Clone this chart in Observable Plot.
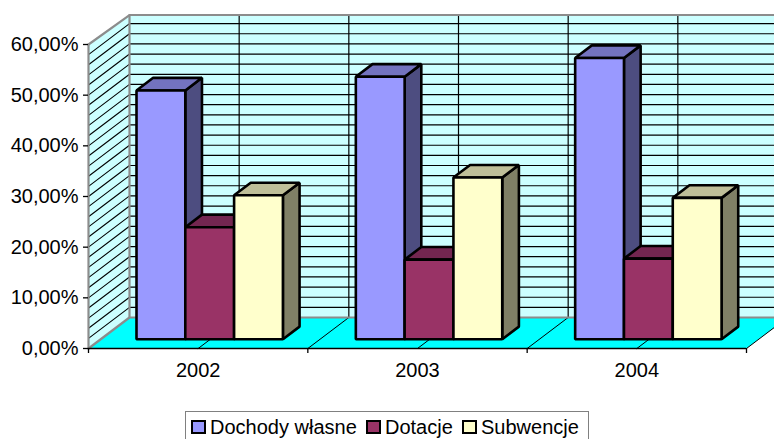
<!DOCTYPE html>
<html><head><meta charset="utf-8">
<script src="https://cdn.jsdelivr.net/npm/d3@7"></script>
<script src="https://cdn.jsdelivr.net/npm/@observablehq/plot@0.6"></script>
<style>
html,body{margin:0;padding:0;background:#fff;overflow:hidden;height:439px}
#legend{position:absolute;left:185px;top:411px;width:402px;height:40px;border:1px solid #808080;font:20px "Liberation Sans",Arial,sans-serif;color:#000;white-space:nowrap}
#legend span{position:absolute;top:4px;line-height:22px}
#legend i{position:absolute;top:8px;width:11px;height:10px;border:2px solid #000;display:block}
</style></head><body>
<div id="chart"></div><div id="legend"></div>
<script>
const categories = ["2002","2003","2004"];
const seriesNames = ["Dochody własne","Dotacje","Subwencje"];
const dochody = [49.1,51.8,55.5];
const dotacje = [22.1,15.7,15.9];
const subwencje = [28.4,31.9,27.9];
const axisTicks = [0,10,20,30,40,50,60];
const seriesValues = [dochody,dotacje,subwencje];
const frontColors = ["#9999ff","#993366","#ffffcc"];
const sideColors = ["#4d4d80","#4d1a33","#808066"];
const topColors = ["#7373bf","#732650","#bfbf99"];

// oblique projection: depth z (0 front, 1 back wall) shifts x and y in data units
const catPx = 219.33, pctPx = 5.067, depthPx = 31;
const depthX = 41/catPx, depthY = depthPx/pctPx;
const P = (x,y,z=0)=>({x:x+z*depthX,y:y+z*depthY});
const barW = 48.8/catPx, barOffset = 35.7/catPx;
const z0 = 9.3/depthPx, z1 = z0 + 12.6/depthPx;
const faces=[];
const addFace=(id,fill,pts)=>pts.forEach(p=>faces.push({id,fill,...p}));
categories.forEach((c,ci)=>seriesValues.forEach((vals,si)=>{
  const x0 = ci + barOffset + si*barW - 0.4*(z0-0.3)*0, x1 = x0+barW, v = vals[ci];
  addFace(`${c}-${si}-side`,sideColors[si],[P(x1,0,z0),P(x1,0,z1),P(x1,v,z1),P(x1,v,z0)]);
  addFace(`${c}-${si}-top`,topColors[si],[P(x0,v,z0),P(x1,v,z0),P(x1,v,z1),P(x0,v,z1)]);
  addFace(`${c}-${si}-front`,frontColors[si],[P(x0,0,z0),P(x1,0,z0),P(x1,v,z0),P(x0,v,z0)]);
}));

const wallTop=59.7, nCat=categories.length;
const poly=(id,pts)=>pts.map(p=>({id,...p}));
const backWall=poly("b",[P(0,0,1),P(nCat,0,1),P(nCat,wallTop,1),P(0,wallTop,1)]);
const leftWall=poly("l",[P(0,0,0),P(0,0,1),P(0,wallTop,1),P(0,60,0)]);
const floor=poly("f",[P(0,0,0),P(nCat,0,0),P(nCat,0,1),P(0,0,1)]);
const minor=d3.range(2,60,2);
const hGrid=minor.flatMap(v=>[{id:v,...P(0,v,1)},{id:v,...P(nCat,v,1)}]);
const dGrid=minor.flatMap(v=>[{id:v,...P(0,v,0)},{id:v,...P(0,v,1)}]);
const halves=d3.range(.5,nCat+.01,.5);
const vGrid=halves.flatMap(h=>[{id:h,...P(h,0,1)},{id:h,...P(h,wallTop,1)}]);
const fGrid=halves.flatMap(h=>[{id:h,...P(h,0,0)},{id:h,...P(h,0,1)}]);
const frame=[
  ...poly("e1",[P(0,0,0),P(0,0,1),P(nCat,0,1)]),
  ...poly("e2",[P(0,60,0),P(0,wallTop,1),P(nCat,wallTop,1)]),
  ...poly("e3",[P(0,0,1),P(0,wallTop,1)]),
  ...poly("e4",[P(0,0,0),P(0,60,0)])
];
const font='"Liberation Sans",Arial,sans-serif';
const lineOpts={x:"x",y:"y",z:"id"};
const plot=Plot.plot({
  width:774,height:411,marginLeft:88,marginRight:28,marginTop:44,marginBottom:63,
  style:{background:"transparent",fontFamily:font,fontSize:"20px",color:"#000",overflow:"hidden"},
  x:{domain:[0,3],axis:null},
  y:{domain:[0,60],axis:null},
  marks:[
    Plot.line(backWall,{...lineOpts,fill:"#ccffff",stroke:"none",curve:"linear-closed"}),
    Plot.line(leftWall,{...lineOpts,fill:"#ccffff",stroke:"none",curve:"linear-closed"}),
    Plot.line(floor,{...lineOpts,fill:"#00ffff",stroke:"none",curve:"linear-closed"}),
    Plot.line(hGrid,{...lineOpts,stroke:"#000",strokeWidth:1.2}),
    Plot.line(dGrid,{...lineOpts,stroke:"#000",strokeWidth:1.1}),
    Plot.line(vGrid,{...lineOpts,stroke:"#000",strokeWidth:1.2}),
    Plot.line(fGrid,{...lineOpts,stroke:"#000",strokeWidth:1}),
    Plot.line(frame,{...lineOpts,stroke:"#8c8c8c",strokeWidth:2.2}),
    Plot.ruleY([0],{stroke:"#000",strokeWidth:1.3}),
    Plot.axisY({ticks:axisTicks,tickSize:5,tickPadding:5,stroke:"#000",strokeWidth:1.3,tickFormat:d=>d.toFixed(2).replace(".",",")+"%",label:null,fontSize:20}),
    Plot.axisX({ticks:[0,1,2,3],tickSize:5,strokeWidth:1.3,tickFormat:()=>"",label:null}),
    Plot.axisX({ticks:categories.map((c,i)=>i+.5),tickSize:0,tickPadding:14,tickFormat:d=>categories[Math.floor(d)],label:null,fontSize:20}),
    Plot.line(faces,{...lineOpts,fill:"fill",stroke:"#000",strokeWidth:2.6,strokeLinejoin:"miter",curve:"linear-closed"})
  ]
});
document.getElementById("chart").appendChild(plot);
const L=document.getElementById("legend");
const keyX=[5,180,276], labelX=[24,199,295];
seriesNames.forEach((n,i)=>{
  const k=document.createElement("i");k.style.left=keyX[i]+"px";k.style.background=frontColors[i];L.appendChild(k);
  const s=document.createElement("span");s.style.left=labelX[i]+"px";s.textContent=n;L.appendChild(s);
});
</script></body></html>
